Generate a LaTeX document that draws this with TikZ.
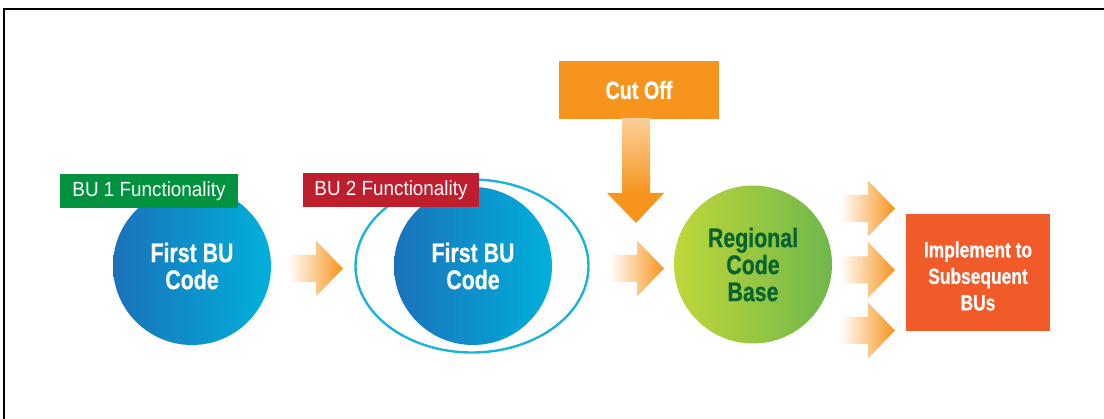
\documentclass[tikz,border=0pt]{standalone}
\usepackage{fontspec}
\usetikzlibrary{shapes.geometric}
\newfontfamily\condb{Liberation Sans}[FakeStretch=0.79, BoldFeatures={FakeBold=0.6}]
\newfontfamily\labfont{Liberation Sans}[FakeStretch=0.92]
\definecolor{arrorange}{HTML}{F7941D}
\definecolor{boxorange}{HTML}{F7941D}
\definecolor{implred}{HTML}{F15A29}
\definecolor{labgreen}{HTML}{00923F}
\definecolor{labred}{HTML}{BE1E2D}
\definecolor{darkgreen}{HTML}{08632F}
\definecolor{ringblue}{HTML}{1BB3DB}
\definecolor{blueL}{HTML}{1B72BA}
\definecolor{blueR}{HTML}{00B0DB}
\definecolor{greenL}{HTML}{BFD73A}
\definecolor{greenR}{HTML}{6FB74A}
\tikzset{
  bubble/.style={circle, minimum size=158pt, inner sep=0pt, align=center,
    font=\condb\bfseries\fontsize{27}{27}\selectfont},
  bluebubble/.style={bubble, left color=blueL, right color=blueR, text=white},
  greenbubble/.style={bubble, left color=greenL, right color=greenR, text=darkgreen},
  tag/.style={minimum height=34pt, inner sep=0pt, text=white,
    font=\labfont\fontsize{20.5}{22}\selectfont},
  harrow/.pic={
    \shade[left color=white, right color=arrorange]
      (-55,-13.5) -- (-27,-13.5) -- (-27,-28) -- (0,0) -- (-27,28)
      -- (-27,13.5) -- (-55,13.5) -- cycle;
  }
}
\begin{document}
\begin{tikzpicture}[x=1pt, y=-1pt]
\useasboundingbox (0,0) rectangle (1104,419);
% frame
\draw[line width=2.4pt, line join=miter] (4,419) -- (4,9.3) -- (1104,9.3);

% ring around second bubble
\node[ellipse, draw=ringblue, line width=2.4pt, minimum width=233pt,
      minimum height=173pt, inner sep=0pt] (ring) at (472,266) {};

% bubbles
\node[bluebubble] (c1) at (192,266) {First BU\\Code};
\node[bluebubble] (c2) at (473,266) {First BU\\Code};
\node[greenbubble] (c3) at (753,264.5) {Regional\\Code\\Base};

% tags
\node[tag, fill=labgreen, minimum width=178pt] (t1) at (149,191) {BU 1 Functionality};
\node[tag, fill=labred, minimum width=176pt] (t2) at (391,190.5) {BU 2 Functionality};

% cut off box
\node[fill=boxorange, minimum width=160pt, minimum height=58pt, inner sep=0pt,
      text=white, font=\condb\bfseries\fontsize{25}{25}\selectfont]
      (cut) at (639,90) {Cut Off};

% implement box
\node[fill=implred, minimum width=144pt, minimum height=117pt, inner sep=0pt,
      text=white, font=\condb\bfseries\fontsize{22}{26.5}\selectfont]
      (impl) at (978,272.5) {};
\node[text=white, align=center, inner sep=0pt,
      font=\condb\bfseries\fontsize{22}{26.5}\selectfont]
      (impltext) at (978,276) {Implement to\\Subsequent\\BUs};

% down arrow from cut off
\coordinate (dtip) at (636,223);
\shade[top color=arrorange!45!white, bottom color=arrorange]
  (622,119) rectangle (650,194);
\fill[arrorange] (607,193) -- (664,193) -- (dtip) -- cycle;

% horizontal block arrows
\pic at (343,268.5) {harrow};
\pic at (664,268.5) {harrow};
\pic at (895,208.5) {harrow};
\pic at (895,270) {harrow};
\pic at (895,330.5) {harrow};
\end{tikzpicture}
\end{document}
